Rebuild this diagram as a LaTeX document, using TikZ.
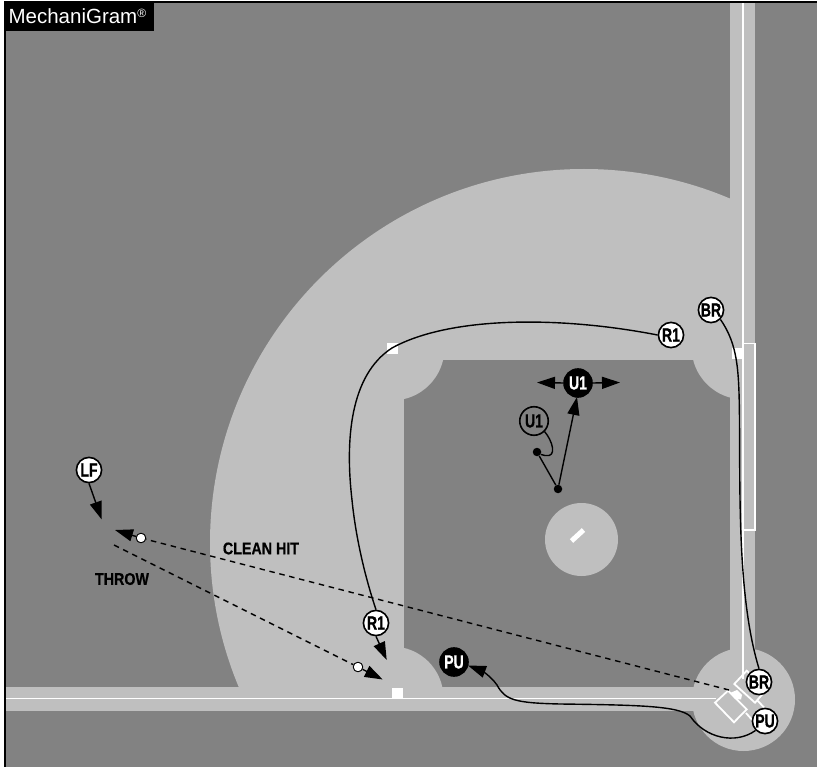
\documentclass[tikz,border=0pt]{standalone}
\usepackage{fontspec}
\setmainfont{Liberation Sans}
\newfontfamily\condbold[FakeStretch=0.74,BoldFeatures={FakeBold=0.6}]{Liberation Sans}
\newfontfamily\lblbold[FakeStretch=0.84,BoldFeatures={FakeBold=0.5}]{Liberation Sans}
\usetikzlibrary{arrows.meta}
\definecolor{turf}{HTML}{828282}
\definecolor{dirt}{HTML}{BFBFBF}
\tikzset{
  x=1pt,y=-1pt,
  playerbase/.style={circle,draw=black,line width=1.6pt,minimum size=25.2pt,inner sep=0pt,font=\condbold\bfseries\fontsize{19}{19}\selectfont},
  off/.style={playerbase,fill=white,text=black},
  ump/.style={playerbase,fill=black,text=white,minimum size=28pt},
  umpo/.style={playerbase,fill=turf,text=black,minimum size=28.5pt},
  run/.style={line width=1.4pt,draw=black},
  bigtip/.style={-{Triangle[length=18pt,width=12pt]}},
  dashline/.style={line width=1.4pt,dash pattern=on 5.5pt off 4.7pt},
  whiteline/.style={white,line width=1.8pt},
  thinwhite/.style={white,line width=1.3pt},
  lbl/.style={font=\lblbold\bfseries\fontsize{17}{17}\selectfont,inner sep=0pt},
  dot/.style={circle,fill=black,inner sep=0pt,minimum size=8.5pt},
  wdot/.style={circle,fill=white,draw=black,line width=.8pt,inner sep=0pt,minimum size=9.5pt},
  base/.style={fill=white}
}
\begin{document}
\begin{tikzpicture}
\useasboundingbox (0,0) rectangle (817,767);
\fill[white] (0,0) rectangle (817,767);
\fill[turf] (5,2) rectangle (817,767);
% outfield-edge dirt
\begin{scope}
\clip (5,0) rectangle (730,687);
\fill[dirt] (584,543) circle[radius=374];
\end{scope}
% grass
\fill[turf] (404,360) rectangle (730,687);
% corner cut-outs
\begin{scope}
\clip (404,360) rectangle (730,687);
\fill[dirt] (392,348) circle[radius=52.5];
\fill[dirt] (744,347) circle[radius=52.5];
\fill[dirt] (392,698) circle[radius=51.5];
\end{scope}
% base paths
\fill[dirt] (730,2) rectangle (755,700);
\fill[dirt] (5,687) rectangle (730,711);
\fill[dirt] (743.5,699.5) circle[radius=51.5];
% mound
\fill[dirt] (581.5,539.5) circle[radius=36.5];
\draw[white,line width=5pt] (571.5,541) -- (583.5,530);
% foul lines
\draw[whiteline] (742.7,2) -- (742.7,679);
\draw[whiteline] (5,698.5) -- (716,698.5);
\draw[thinwhite] (743,343.5) -- (755,343.5) -- (755,530) -- (743,530);
% batter boxes
\draw[whiteline] (715,702.7) -- (728,690.7) -- (746.7,709.3) -- (734,722.3) -- cycle;
\draw[whiteline] (734.3,684) -- (746.7,670.7) -- (767,689) -- (755,702.7) -- cycle;
\draw[whiteline] (746,713) -- (762,731);
\draw[whiteline] (757,700) -- (772,716);
% plate and bases
\fill[white] (730,693) -- (737,690) -- (742,695) -- (741,699.5) -- (735,699) -- cycle;
\fill[base] (387,343) rectangle (398,354);
\fill[base] (732,348) rectangle (742,359);
\fill[base] (392,688) rectangle (403,698);
% nodes
\node[off] (r1a) at (671,335) {R1};
\node[off] (br1) at (711,310) {BR};
\node[off] (r1b) at (376,623) {R1};
\node[off] (br2) at (759,682) {BR};
\node[off] (pu1) at (765,721) {PU};
\node[ump] (pu2) at (454,662) {PU};
\node[ump] (u1b) at (578,383) {U1};
\node[umpo] (u1a) at (534,421) {U1};
\node[off] (lf) at (89,470) {LF};
\node[dot] (d1) at (537,452) {};
\node[dot] (d2) at (558,489) {};
\node[wdot] (w1) at (141,538) {};
\node[wdot] (w2) at (358,667) {};
\coordinate (tipR1) at (386.7,660);
\coordinate (tipLF) at (101.7,519.5);
\coordinate (tipL) at (537,382.5);
\coordinate (tipRr) at (620,382.5);
\coordinate (tipW1) at (115,530);
\coordinate (tipW2) at (382.7,679.5);
\coordinate (startC) at (729,690);
\coordinate (startT) at (114,545);
\coordinate (tipPU) at (468,665.5);
% runner paths
\draw[run] (r1a.west) .. controls (560,316) and (450,316) .. (392,348)
  .. controls (350,375) and (345,440) .. (352,500)
  .. controls (356,540) and (366,580) .. (r1b.north);
\draw[run,bigtip] (r1b.south) -- (tipR1);
\draw[run] (br1.south east) .. controls (738,345) and (739,370) .. (739.5,420)
  .. controls (740,500) and (738,600) .. (br2.north);
\draw[run,bigtip] (pu1.south west) .. controls (735,745) and (705,738) .. (690,716)
  .. controls (678,706) and (640,705) .. (560,704)
  .. controls (515,703) and (505,700) .. (497,685)
  .. controls (490,675) and (480,670) .. (tipPU);
% umpire
\draw[run,bigtip] (u1b.west) -- (tipL);
\draw[run,bigtip] (u1b.east) -- (tipRr);
\draw[run,bigtip] (d2) -- (577,397);
\draw[run] (d1) -- (d2);
\draw[run] (u1a.south east) .. controls (552,440) and (558,458) .. (545,455.5)
  .. controls (542,455) and (540,454) .. (d1);
% fielder
\draw[run,bigtip] (lf.south) -- (tipLF);
% throw and hit
\draw[dashline] (startC) -- (w1);
\draw[run,bigtip] (w1) -- (tipW1);
\draw[dashline] (startT) -- (w2);
\draw[run,bigtip] (w2) -- (tipW2);
\node[wdot] at (w1) {};
\node[wdot] at (w2) {};
% labels
\node[lbl] (clean) at (261,548.5) {CLEAN HIT};
\node[lbl] (throw) at (122,579) {THROW};
\fill[black] (5,1.4) rectangle (817,2.9);
\fill[black] (4.2,1.4) rectangle (6,767);
\node[fill=black,text=white,anchor=north west,minimum width=149pt,minimum height=29.5pt,inner sep=0pt,font=\fontsize{20.5}{20.5}\selectfont,align=left,text width=145pt] (logo) at (4.4,1.5) {\hspace*{2pt}MechaniGram\raisebox{6pt}{\fontsize{12}{12}\selectfont\textregistered}};
\end{tikzpicture}
\end{document}
